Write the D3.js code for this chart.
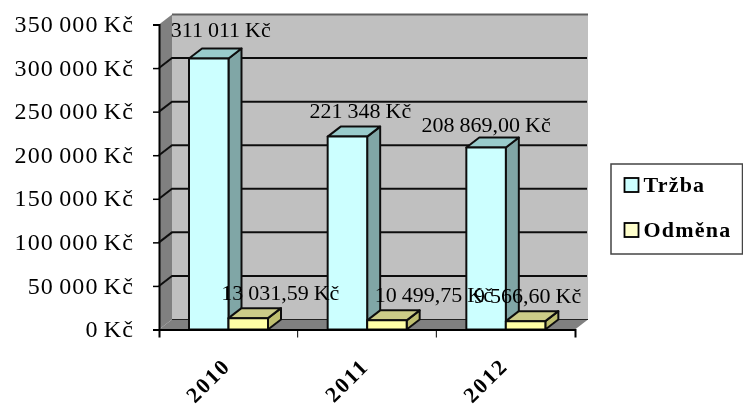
<!DOCTYPE html>
<html>
<head>
<meta charset="utf-8">
<script src="https://cdn.jsdelivr.net/npm/d3@7"></script>
<style>
  html, body { margin: 0; padding: 0; background: #fff; overflow: hidden; }
  text { font-family: "Liberation Serif", serif; fill: #000; }
</style>
</head>
<body>
<div id="chart"></div>
<script>
const years = ["2010", "2011", "2012"];
const seriesNames = ["Tržba", "Odměna"];
const trzba = [311011, 221348, 208869];
const odmena = [13031.59, 10499.75, 9566.60];
const trzbaLabels = ["311 011 Kč", "221 348 Kč", "208 869,00 Kč"];
const odmenaLabels = ["13 031,59 Kč", "10 499,75 Kč", "9 566,60 Kč"];
const yTicks = [0, 50000, 100000, 150000, 200000, 250000, 300000, 350000];

const width = 743;
const height = 408;
const marginTop = 24.5;
const marginRight = 168;
const marginBottom = 78.5;
const marginLeft = 159;

// how far the 3D box goes back
const depthX = 13;
const depthY = 10;

const cz = d3.formatLocale({ decimal: ",", thousands: " ", grouping: [3], currency: ["", " Kč"] });

const x = d3.scaleBand()
    .domain(years)
    .range([marginLeft, width - marginRight]);

const xInner = d3.scaleBand()
    .domain(seriesNames)
    .range([30, 109]);

const y = d3.scaleLinear()
    .domain([0, 350000])
    .range([height - marginBottom, marginTop]);

const svg = d3.select("#chart").append("svg")
    .attr("width", width)
    .attr("height", height)
    .style("display", "block");

// the reference is a slightly soft bitmap
svg.append("filter").attr("id", "soft")
    .append("feGaussianBlur").attr("stdDeviation", 0.45);

const root = svg.append("g").attr("filter", "url(#soft)");

const left = x.range()[0];
const right = x.range()[1];
const y0 = y(0);
const yTop = y(350000);
const poly = (pts) => pts.map(p => p.join(",")).join(" ");

// back wall
root.append("polygon")
    .attr("points", poly([[left + depthX, yTop - depthY], [right + depthX, yTop - depthY], [right + depthX, y0 - depthY], [left + depthX, y0 - depthY]]))
    .attr("fill", "#c0c0c0");

// left wall
root.append("polygon")
    .attr("points", poly([[left, yTop], [left + depthX, yTop - depthY], [left + depthX, y0 - depthY], [left, y0]]))
    .attr("fill", "#808080");

// floor
root.append("polygon")
    .attr("points", poly([[left, y0], [right, y0], [right + depthX, y0 - depthY], [left + depthX, y0 - depthY]]))
    .attr("fill", "#808080");

// top edge of the wall
root.append("line")
    .attr("x1", left + depthX).attr("x2", right + depthX)
    .attr("y1", yTop - depthY).attr("y2", yTop - depthY)
    .attr("stroke", "#606060").attr("stroke-width", 2);

// gridlines, running over the left wall and along the back wall
const grid = yTicks.filter(d => d > 0 && d < 350000);
root.append("g").selectAll("polyline").data(grid).join("polyline")
    .attr("points", d => poly([[left, y(d)], [left + depthX, y(d) - depthY], [right + depthX - 1, y(d) - depthY]]))
    .attr("fill", "none")
    .attr("stroke", "#111")
    .attr("stroke-width", 2);

root.append("line")
    .attr("x1", left + depthX).attr("x2", right + depthX)
    .attr("y1", y0 - depthY).attr("y2", y0 - depthY)
    .attr("stroke", "#222").attr("stroke-width", 1);

const palette = {
    "Tržba": { front: "#ccffff", top: "#99cccc", side: "#80a6a6" },
    "Odměna": { front: "#ffffa6", top: "#cccc88", side: "#bfbf70" }
};

function drawBar(g, year, name, value) {
    const c = palette[name];
    const x0 = x(year) + xInner(name);
    const x1 = x0 + xInner.bandwidth();
    const yv = y(value);
    const bar = g.append("g")
        .attr("stroke", "#111")
        .attr("stroke-width", 2)
        .attr("stroke-linejoin", "round");
    bar.append("polygon")
        .attr("points", poly([[x1, yv], [x1 + depthX, yv - depthY], [x1 + depthX, y0 - depthY], [x1, y0]]))
        .attr("fill", c.side);
    bar.append("polygon")
        .attr("points", poly([[x0, yv], [x0 + depthX, yv - depthY], [x1 + depthX, yv - depthY], [x1, yv]]))
        .attr("fill", c.top);
    bar.append("rect")
        .attr("x", x0).attr("y", yv)
        .attr("width", x1 - x0).attr("height", y0 - yv)
        .attr("fill", c.front);
}

const bars = root.append("g");
years.forEach((year, i) => {
    drawBar(bars, year, "Tržba", trzba[i]);
    drawBar(bars, year, "Odměna", odmena[i]);
});

// axes
const yAxis = d3.axisLeft(y)
    .tickValues(yTicks)
    .tickSize(6)
    .tickPadding(19)
    .tickFormat(cz.format("$,.0f"));

const gy = root.append("g")
    .attr("transform", `translate(${marginLeft},0)`)
    .call(yAxis);

const xAxis = d3.axisBottom(x)
    .tickValues([])
    .tickSizeOuter(8);

const gx = root.append("g")
    .attr("transform", `translate(0,${y0})`)
    .call(xAxis);

// band edges carry the ticks, not the band centres
gx.selectAll("line.edge").data(x.domain().slice(1)).join("line")
    .attr("class", "edge")
    .attr("x1", d => x(d)).attr("x2", d => x(d))
    .attr("y1", 0).attr("y2", 8)
    .attr("stroke", "#000");

root.selectAll(".domain").attr("stroke", "#000").attr("stroke-width", 2);
gy.selectAll(".tick line").attr("stroke", "#000").attr("stroke-width", 1.5);
gy.selectAll(".tick text")
    .style("font-size", "24px")
    .style("letter-spacing", "1.1px")
    .style("word-spacing", "-1.8px")
    .attr("dy", "0.3em")
    .attr("fill", "#000");

// year labels, turned 45 degrees
root.append("g").selectAll("text").data(years).join("text")
    .attr("transform", d => `translate(${x(d) + x.bandwidth() / 2 - 18.5},${y0 + 52.5}) rotate(-45)`)
    .attr("text-anchor", "middle")
    .attr("dominant-baseline", "middle")
    .style("font-size", "22px")
    .style("font-weight", "bold")
    .style("letter-spacing", "2px")
    .text(d => d);

// data labels; Excel placed each one by hand, so they need small nudges
const trzbaNudge = [[0, -1], [1, 2], [-12, 5]];
const odmenaNudge = [[20, 3], [35, 3], [-10, 3]];

function drawLabels(names, labels, values, name, nudges) {
    root.append("g").selectAll("text").data(labels).join("text")
        .attr("x", (d, i) => x(names[i]) + xInner(name) + xInner.bandwidth() / 2 + 12 + nudges[i][0])
        .attr("y", (d, i) => y(values[i]) - 26 + nudges[i][1])
        .attr("text-anchor", "middle")
        .attr("dominant-baseline", "middle")
        .style("font-size", "22px")
        .style("word-spacing", "-0.5px")
        .text(d => d);
}
drawLabels(years, trzbaLabels, trzba, "Tržba", trzbaNudge);
drawLabels(years, odmenaLabels, odmena, "Odměna", odmenaNudge);

// legend
const legend = root.append("g").attr("transform", "translate(611,164)");
legend.append("rect")
    .attr("width", 131.5).attr("height", 90)
    .attr("fill", "#fff")
    .attr("stroke", "#444")
    .attr("stroke-width", 1.5);

const legendFill = { "Tržba": "#ccffff", "Odměna": "#ffffcc" };
const item = legend.selectAll("g").data(seriesNames).join("g")
    .attr("transform", (d, i) => `translate(0,${21 + i * 45})`);
item.append("rect")
    .attr("x", 13.5).attr("y", -7)
    .attr("width", 14).attr("height", 14)
    .attr("fill", d => legendFill[d])
    .attr("stroke", "#000")
    .attr("stroke-width", 1.8);
item.append("text")
    .attr("x", 32.5)
    .attr("y", 2)
    .attr("dominant-baseline", "middle")
    .style("font-size", "22px")
    .style("font-weight", "bold")
    .style("letter-spacing", "1.2px")
    .text(d => d);
</script>
</body>
</html>
